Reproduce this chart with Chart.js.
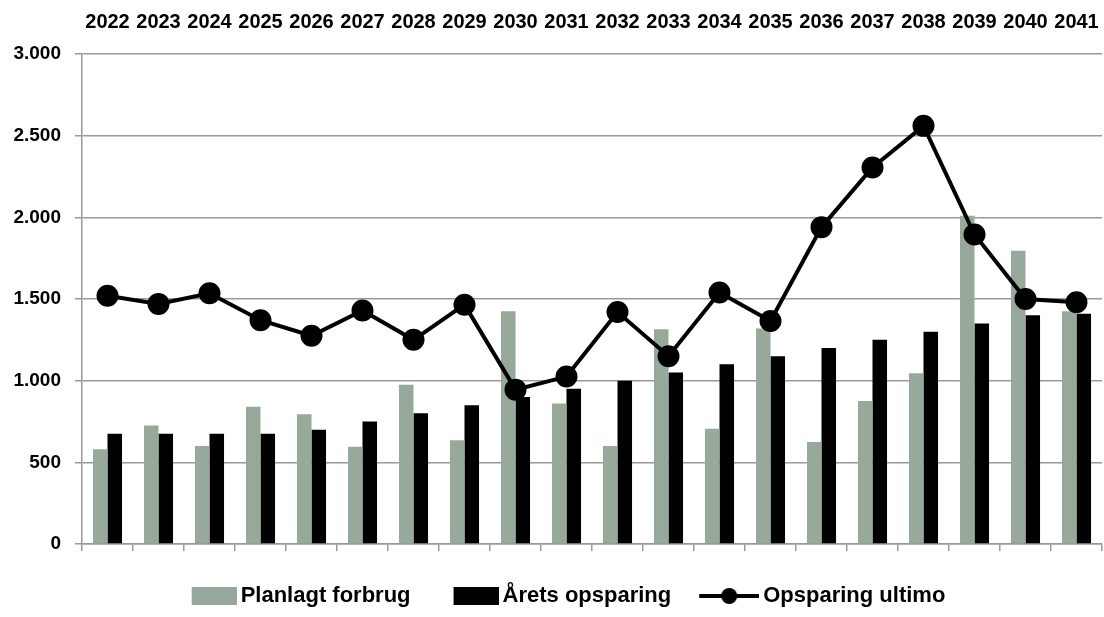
<!DOCTYPE html>
<html>
<head>
<meta charset="utf-8">
<script src="https://cdn.jsdelivr.net/npm/chart.js@4/dist/chart.umd.min.js"></script>
<style>
  html, body { margin: 0; padding: 0; background: #fff; overflow: hidden; }
  #chart { display: block; }
</style>
</head>
<body>
<canvas id="chart" width="1104" height="617"></canvas>
<script>
const years = ['2022', '2023', '2024', '2025', '2026', '2027', '2028', '2029', '2030', '2031',
               '2032', '2033', '2034', '2035', '2036', '2037', '2038', '2039', '2040', '2041'];
const planlagtForbrug = [580, 725, 600, 840, 795, 595, 975, 635, 1425, 860,
                         600, 1315, 705, 1320, 625, 875, 1045, 2010, 1795, 1425];
const aretsOpsparing = [675, 675, 675, 675, 700, 750, 800, 850, 900, 950,
                        1000, 1050, 1100, 1150, 1200, 1250, 1300, 1350, 1400, 1410];
const opsparingUltimo = [1520, 1470, 1535, 1370, 1275, 1430, 1250, 1465, 945, 1025,
                         1420, 1150, 1540, 1365, 1940, 2305, 2560, 1895, 1500, 1480];
const yTicks = [0, 500, 1000, 1500, 2000, 2500, 3000];

const GREY = '#96a99a';
const FONT = "'Liberation Sans', Arial, sans-serif";

// legend swatches, drawn right-aligned inside a wider transparent canvas
function swatch(kind, color) {
    const c = document.createElement('canvas');
    c.width = 87; c.height = 20;
    const g = c.getContext('2d');
    if (kind === 'box') {
        g.fillStyle = color;
        g.fillRect(87 - 45, 1, 45, 18);
    } else {
        g.strokeStyle = color;
        g.lineWidth = 4;
        g.beginPath(); g.moveTo(87 - 60, 10); g.lineTo(87, 10); g.stroke();
        g.fillStyle = color;
        g.beginPath(); g.arc(87 - 30, 10, 8, 0, Math.PI * 2); g.fill();
    }
    return c;
}
const legendIcons = [swatch('box', GREY), swatch('box', '#000'), swatch('line', '#000')];

function fmt(v) {
    return String(v).replace(/\B(?=(\d{3})+(?!\d))/g, '.');
}

// keep horizontal scales from reserving side padding for their labels
function noSidePadding(scale) {
    scale.paddingLeft = 0;
    scale.paddingRight = 0;
}

new Chart(document.getElementById('chart'), {
    type: 'bar',
    data: {
        labels: years,
        datasets: [
            {
                type: 'line',
                label: 'Opsparing ultimo',
                data: opsparingUltimo,
                borderColor: '#000',
                backgroundColor: '#000',
                borderWidth: 4,
                pointRadius: 9,
                pointBackgroundColor: '#000',
                tension: 0,
                clip: false,
                order: 0
            },
            {
                label: 'Planlagt forbrug',
                data: planlagtForbrug,
                backgroundColor: GREY,
                categoryPercentage: 0.57,
                barPercentage: 1.0,
                order: 1
            },
            {
                label: 'Årets opsparing',
                data: aretsOpsparing,
                backgroundColor: '#000',
                categoryPercentage: 0.57,
                barPercentage: 1.0,
                order: 1
            }
        ]
    },
    options: {
        responsive: false,
        animation: false,
        layout: { autoPadding: false, padding: { left: 0, right: 2, top: 0, bottom: 0 } },
        plugins: {
            tooltip: { enabled: false },
            legend: {
                position: 'bottom',
                labels: {
                    usePointStyle: true,
                    pointStyleWidth: 73,
                    padding: 8,
                    color: '#000',
                    font: { family: FONT, size: 22, weight: 'bold' },
                    generateLabels(chart) {
                        const order = [1, 2, 0];
                        return order.map((di, i) => ({
                            text: chart.data.datasets[di].label,
                            pointStyle: legendIcons[i],
                            fillStyle: 'transparent',
                            strokeStyle: 'transparent',
                            lineWidth: 0,
                            fontColor: '#000',
                            datasetIndex: di
                        }));
                    }
                }
            }
        },
        scales: {
            x: {
                type: 'category',
                position: 'bottom',
                offset: true,
                grid: {
                    offset: true,
                    drawOnChartArea: false,
                    drawTicks: true,
                    tickLength: 7,
                    color: '#999',
                    lineWidth: 1.5
                },
                border: { display: true, color: '#999', width: 1.5 },
                ticks: { display: false },
                afterFit(scale) { scale.height = 33; noSidePadding(scale); }
            },
            x2: {
                type: 'category',
                position: 'top',
                offset: true,
                grid: { display: false, drawTicks: false },
                border: { display: false },
                ticks: {
                    color: '#000',
                    padding: 2,
                    maxRotation: 0,
                    autoSkip: false,
                    font: { family: FONT, size: 20, weight: 'bold', lineHeight: 3 }
                },
                afterFit(scale) { scale.height = 54; noSidePadding(scale); }
            },
            y: {
                min: 0,
                max: 3000,
                afterBuildTicks(scale) { scale.ticks = yTicks.map(v => ({ value: v })); },
                afterFit(scale) { scale.width = 82; },
                grid: { color: '#999', lineWidth: 1.5, tickLength: 7 },
                border: { display: true, color: '#999', width: 1.5 },
                ticks: {
                    color: '#000',
                    padding: 14,
                    font: { family: FONT, size: 19, weight: 'bold' },
                    callback: v => fmt(v)
                }
            }
        }
    }
});
</script>
</body>
</html>
